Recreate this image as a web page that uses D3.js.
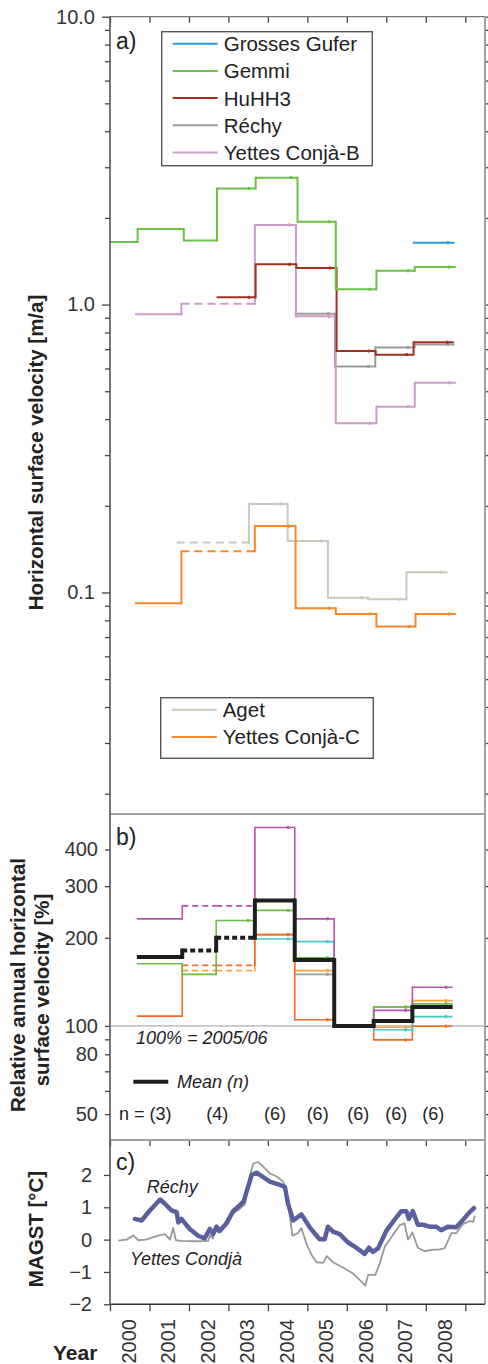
<!DOCTYPE html>
<html>
<head>
<meta charset="utf-8">
<script src="https://cdn.jsdelivr.net/npm/d3@7"></script>
<style>
	body { margin: 0; background: #fff; }
	svg { display: block; font-family: "Liberation Sans", Arial, Helvetica, sans-serif; }
</style>
</head>
<body>
<svg id="chart" width="488" height="1364"></svg>
<script>
// ---------- data ----------
var years = [2000, 2001, 2002, 2003, 2004, 2005, 2006, 2007, 2008];

// panel a: interval boundaries (decimal year) and horizontal velocity [m/a] per interval
var gufT = [2007.67, 2008.73];
var gufV = [1.64];
var gemT = [1999.7, 2000.70, 2001.87, 2002.71, 2003.69, 2004.75, 2005.72, 2006.75, 2007.72, 2008.76];
var gemV = [1.65, 1.83, 1.67, 2.53, 2.76, 1.94, 1.13, 1.31, 1.35];
var huhT = [2002.70, 2003.69, 2004.72, 2005.74, 2006.73, 2007.69, 2008.71];
var huhV = [1.06, 1.38, 1.34, 0.69, 0.67, 0.74];
var recT = [2004.68, 2005.70, 2006.72, 2007.72, 2008.73];
var recV = [0.93, 0.61, 0.71, 0.726];
var ycbT = [2000.63, 2001.81, 2003.67, 2004.71, 2005.72, 2006.75, 2007.72, 2008.76];
var ycbV = [0.925, 1.006, 1.89, 0.91, 0.387, 0.442, 0.535];
var ycbDash = [1];
var agtT = [2001.69, 2003.52, 2004.50, 2005.52, 2006.54, 2007.51, 2008.55];
var agtV = [0.149, 0.203, 0.151, 0.0959, 0.0947, 0.1175];
var agtDash = [0];
var yccT = [2000.63, 2001.81, 2003.67, 2004.70, 2005.72, 2006.75, 2007.74, 2008.76];
var yccV = [0.0917, 0.139, 0.170, 0.0881, 0.0842, 0.0761, 0.0842];
var yccDash = [1];

// panel b: shared interval boundaries and relative velocity [%] (100% = 2005/06)
var relT = [2000.68, 2001.83, 2002.69, 2003.67, 2004.68, 2005.68, 2006.68, 2007.66, 2008.68];
var relYcb = [232, 257, 257, 476, 232, 100, 113, 135.5];
var relGem = [163, 150, 229, 248, 171, 100, 116, 119];
var relYcc = [108, 161, 161, 205, 105, 100, 89.6, 99.8];
var relAgt = [null, 154.5, 154.5, 205, 154.5, 100, 99, 122];
var relHuh = [null, null, null, 198, 194, 100, 97, 107.6];
var relRec = [null, null, null, null, 150, 100, 116, 119];
var relMean = [172, 181, 200, 268, 168, 100, 104, 116];
var relDash = [1, 2];
var nCounts = [3, 4, 6, 6, 6, 6, 6];
var nAt = [2001.31, 2002.72, 2004.18, 2005.26, 2006.29, 2007.25, 2008.19];

// panel c: mean annual ground surface temperature [°C]
var rechyT = [2000.63, 2000.80, 2001.01, 2001.27, 2001.39, 2001.56, 2001.69, 2001.73, 2001.81, 2002.02,
	2002.23, 2002.40, 2002.53, 2002.61, 2002.70, 2002.78, 2002.95, 2003.12, 2003.33, 2003.39,
	2003.49, 2003.59, 2003.71, 2003.92, 2004.05, 2004.30, 2004.43, 2004.51, 2004.64, 2004.85,
	2005.06, 2005.31, 2005.44, 2005.52, 2005.65, 2005.82, 2006.03, 2006.24, 2006.45, 2006.56,
	2006.66, 2006.79, 2007.00, 2007.21, 2007.38, 2007.51, 2007.57, 2007.67, 2007.80, 2007.93,
	2008.10, 2008.27, 2008.39, 2008.56, 2008.77, 2008.94, 2009.11, 2009.22];
var rechyV = [0.64, 0.59, 0.90, 1.24, 1.11, 0.90, 0.85, 0.53, 0.64, 0.33,
	0.12, 0.04, 0.33, 0.17, 0.40, 0.27, 0.50, 0.88, 1.11, 1.20,
	1.60, 2.00, 2.07, 1.90, 1.79, 1.69, 1.63, 1.11, 0.59, 0.78,
	0.38, 0.01, 0.01, 0.40, 0.25, 0.17, -0.09, -0.25, -0.44, -0.25,
	-0.38, -0.27, 0.27, 0.62, 0.88, 0.88, 0.64, 0.88, 0.46, 0.46,
	0.40, 0.40, 0.29, 0.40, 0.38, 0.61, 0.85, 0.97];
var yettesT = [2000.21, 2000.42, 2000.59, 2000.72, 2000.91, 2001.10, 2001.27, 2001.39, 2001.52, 2001.60,
	2001.67, 2001.81, 2002.11, 2002.49, 2002.53, 2002.61, 2002.66, 2002.74, 2002.83, 2003.04,
	2003.29, 2003.42, 2003.54, 2003.63, 2003.75, 2003.88, 2004.05, 2004.22, 2004.39, 2004.49,
	2004.62, 2004.76, 2004.85, 2004.98, 2005.10, 2005.23, 2005.40, 2005.49, 2005.65, 2005.90,
	2006.16, 2006.37, 2006.47, 2006.54, 2006.72, 2006.83, 2006.96, 2007.17, 2007.34, 2007.46,
	2007.55, 2007.66, 2007.80, 2007.97, 2008.14, 2008.35, 2008.48, 2008.65, 2008.77, 2008.94,
	2009.11, 2009.20, 2009.24];
var yettesV = [-0.03, 0.00, 0.13, -0.02, 0.00, 0.08, 0.14, 0.17, 0.00, 0.36,
	-0.02, -0.04, -0.05, -0.04, 0.12, 0.03, 0.40, 0.22, 0.35, 0.75,
	0.95, 1.10, 1.95, 2.35, 2.40, 2.26, 2.05, 1.95, 1.79, 1.37,
	0.12, 0.20, 0.36, -0.14, -0.46, -0.70, -0.72, -0.51, -0.70, -0.86,
	-1.05, -1.30, -1.42, -1.09, -1.09, -0.75, -0.22, 0.15, 0.45, 0.50,
	0.00, 0.22, -0.25, -0.36, -0.32, -0.30, -0.26, 0.20, 0.20, 0.48,
	0.57, 0.55, 0.74];

// ---------- layout ----------
var L = 110, R = 485;
var aTop = 16.7, aBot = 814, bBot = 1140, cBot = 1304.3;

var svg = d3.select("#chart");

var x = d3.scaleLinear().domain([2000, 2009.5]).range([L, R]);
var yA = d3.scaleLog().domain([0.017, 10]).range([aBot, aTop]);
var yB = d3.scaleLog().domain([40.8, 529]).range([bBot, aBot]);
var yC = d3.scaleLinear().domain([-2, 3.08]).range([cBot, bBot]);

// clip paths for each panel
var defs = svg.append("defs");
[["clipA", aTop, aBot], ["clipB", aBot, bBot], ["clipC", bBot, cBot]].forEach(function(c) {
	defs.append("clipPath").attr("id", c[0]).append("rect")
		.attr("x", L).attr("y", c[1]).attr("width", R - L).attr("height", c[2] - c[1]);
});

// step series: horizontal piece per interval, solid vertical connectors
function drawSteps(g, y, t, v, dash, color, width, dashArray) {
	var gen = d3.line().x(function(d) { return x(d[0]); }).y(function(d) { return y(d[1]); });
	for (var i = 0; i < v.length; i++) {
		if (v[i] == null) continue;
		var isDash = dash && dash.indexOf(i) >= 0;
		g.append("path")
			.attr("d", gen([[t[i], v[i]], [t[i + 1], v[i]]]))
			.attr("fill", "none")
			.attr("stroke", color)
			.attr("stroke-width", width)
			.attr("stroke-dasharray", isDash ? dashArray : null);
		if (i < v.length - 1 && v[i + 1] != null && v[i + 1] != v[i]) {
			g.append("path")
				.attr("d", gen([[t[i + 1], v[i]], [t[i + 1], v[i + 1]]]))
				.attr("fill", "none")
				.attr("stroke", color)
				.attr("stroke-width", width)
				.attr("stroke-linecap", "square");
		}
	}
}

// small measurement markers near the end of later intervals
function drawMarks(g, y, t, v, dash, color) {
	for (var i = 0; i < v.length; i++) {
		if (v[i] == null || t[i] < 2002.6) continue;
		if (dash && dash.indexOf(i) >= 0) continue;
		g.append("rect")
			.attr("x", x(t[i + 1] - 0.17) - 1.2)
			.attr("y", y(v[i]) - 1.5)
			.attr("width", 2.4).attr("height", 3)
			.attr("fill", color);
	}
}

// ---------- panel a ----------
var gA = svg.append("g").attr("clip-path", "url(#clipA)");
var seriesA = [
	{ name: "Grosses Gufer", t: gufT, v: gufV, dash: null, color: "#2b9bd6" },
	{ name: "Gemmi", t: gemT, v: gemV, dash: null, color: "#6cbf48" },
	{ name: "HuHH3", t: huhT, v: huhV, dash: null, color: "#a2321f" },
	{ name: "Réchy", t: recT, v: recV, dash: null, color: "#9b9b9b" },
	{ name: "Yettes Conjà-B", t: ycbT, v: ycbV, dash: ycbDash, color: "#cf9bcb" }
];
var seriesA2 = [
	{ name: "Aget", t: agtT, v: agtV, dash: agtDash, color: "#c9c9bd" },
	{ name: "Yettes Conjà-C", t: yccT, v: yccV, dash: yccDash, color: "#f7892a" }
];
// draw order roughly as in the figure
[seriesA2[0], seriesA2[1], seriesA[3], seriesA[4], seriesA[2], seriesA[1], seriesA[0]].forEach(function(s) {
	drawSteps(gA, yA, s.t, s.v, s.dash, s.color, 2, "8,5");
	drawMarks(gA, yA, s.t, s.v, s.dash, s.color);
});

// ---------- panel b ----------
var gB = svg.append("g").attr("clip-path", "url(#clipB)");
gB.append("line")
	.attr("x1", L).attr("x2", R)
	.attr("y1", yB(100)).attr("y2", yB(100))
	.attr("stroke", "#9a9a9a").attr("stroke-width", 1);
var seriesB = [
	{ v: relRec, dash: null, color: "#9d9d9d" },
	{ v: relAgt, dash: relDash, color: "#f8a53c" },
	{ v: relYcc, dash: relDash, color: "#f26a26" },
	{ v: relHuh, dash: null, color: "#48c4c6" },
	{ v: relGem, dash: null, color: "#6abd45" },
	{ v: relYcb, dash: relDash, color: "#b654ad" }
];
seriesB.forEach(function(s) {
	drawSteps(gB, yB, relT, s.v, s.dash, s.color, 1.6, "6,4");
	drawMarks(gB, yB, relT, s.v, s.dash, s.color);
});
drawSteps(gB, yB, relT, relMean, relDash, "#1e1e1e", 4, "5,3");

// ---------- panel c ----------
var gC = svg.append("g").attr("clip-path", "url(#clipC)");
var lineC = d3.line().x(function(d) { return x(d[0]); }).y(function(d) { return yC(d[1]); });
gC.append("path")
	.attr("d", lineC(d3.zip(yettesT, yettesV)))
	.attr("fill", "none").attr("stroke", "#999").attr("stroke-width", 1.8)
	.attr("stroke-linejoin", "round");
gC.append("path")
	.attr("d", lineC(d3.zip(rechyT, rechyV)))
	.attr("fill", "none").attr("stroke", "#5a5f9e").attr("stroke-width", 4.5)
	.attr("stroke-linejoin", "round").attr("stroke-linecap", "round");

// ---------- axes ----------
function styleAxis(g, fontSize) {
	g.selectAll(".domain").remove();
	g.selectAll(".tick line").attr("stroke", "#444").attr("stroke-width", 1.3);
	g.selectAll(".tick text").attr("fill", "#333").attr("font-size", fontSize)
		.attr("font-family", "\"Liberation Sans\", Arial, sans-serif");
}
function minorLog(lo, hi) {
	var out = [];
	[0.01, 0.1, 1, 10, 100].forEach(function(d) {
		for (var k = 2; k <= 9; k++) {
			var val = +(d * k).toPrecision(3);
			if (val >= lo && val <= hi) out.push(val);
		}
	});
	return out;
}

// panel a y axis
var aMajor = [0.1, 1, 10];
var aMinor = minorLog(0.017, 10);
styleAxis(svg.append("g").attr("transform", "translate(" + L + ",0)")
	.call(d3.axisLeft(yA).tickValues(aMinor).tickSize(5).tickFormat("")), 20);
styleAxis(svg.append("g").attr("transform", "translate(" + L + ",0)")
	.call(d3.axisLeft(yA).tickValues(aMajor).tickSize(8).tickPadding(7)
		.tickFormat(function(d) { return d >= 10 ? "10.0" : d >= 1 ? "1.0" : "0.1"; })), 20);
styleAxis(svg.append("g").attr("transform", "translate(" + R + ",0)")
	.call(d3.axisRight(yA).tickValues(aMajor.concat(aMinor)).tickSize(3).tickFormat("")), 20);

// panel b y axis
var bMajor = [100, 200, 300, 400];
var bMinor = [50, 60, 70, 80, 90];
styleAxis(svg.append("g").attr("transform", "translate(" + L + ",0)")
	.call(d3.axisLeft(yB).tickValues(bMinor.concat(bMajor)).tickSize(5).tickPadding(7)
		.tickFormat(function(d) { return (d == 60 || d == 70 || d == 90) ? "" : d; })), 20);
styleAxis(svg.append("g").attr("transform", "translate(" + R + ",0)")
	.call(d3.axisRight(yB).tickValues(bMinor.concat(bMajor)).tickSize(3).tickFormat("")), 20);

// panel c y axis
styleAxis(svg.append("g").attr("transform", "translate(" + L + ",0)")
	.call(d3.axisLeft(yC).tickValues([-2, -1, 0, 1, 2]).tickSize(6).tickPadding(12)
		.tickFormat(d3.format("d"))), 20);
styleAxis(svg.append("g").attr("transform", "translate(" + R + ",0)")
	.call(d3.axisRight(yC).tickValues([-1, 0, 1, 2]).tickSize(3).tickFormat("")), 20);

// year ticks
var yearTicks = years.concat([2009]);
styleAxis(svg.append("g").attr("transform", "translate(0," + aTop + ")")
	.call(d3.axisTop(x).tickValues(yearTicks).tickSize(-6).tickFormat("")), 20);
styleAxis(svg.append("g").attr("transform", "translate(0," + bBot + ")")
	.call(d3.axisTop(x).tickValues(yearTicks).tickSize(-6).tickFormat("")), 20);
styleAxis(svg.append("g").attr("transform", "translate(0," + cBot + ")")
	.call(d3.axisBottom(x).tickValues(yearTicks).tickSize(7).tickFormat("")), 20);

// frame
var frame = svg.append("g").attr("fill", "none");
frame.append("line").attr("x1", R).attr("x2", R).attr("y1", aTop).attr("y2", cBot)
	.attr("stroke", "#a0a0a0").attr("stroke-width", 2);
frame.append("line").attr("x1", L).attr("x2", R).attr("y1", aTop).attr("y2", aTop)
	.attr("stroke", "#777").attr("stroke-width", 1.2);
[aBot, bBot].forEach(function(yy) {
	frame.append("line").attr("x1", L).attr("x2", R).attr("y1", yy).attr("y2", yy)
		.attr("stroke", "#a0a0a0").attr("stroke-width", 2);
});
frame.append("line").attr("x1", L).attr("x2", R).attr("y1", cBot).attr("y2", cBot)
	.attr("stroke", "#333").attr("stroke-width", 1.5);
frame.append("line").attr("x1", L).attr("x2", L).attr("y1", aTop).attr("y2", cBot)
	.attr("stroke", "#555").attr("stroke-width", 1.6);

// year labels, rotated, centred on each year
svg.append("g").selectAll("text")
	.data(years).enter().append("text")
	.attr("transform", function(d) { return "translate(" + (x(d + 0.5) - 1) + ",1319) rotate(-90)"; })
	.attr("text-anchor", "end")
	.attr("dy", "0.35em")
	.attr("font-size", 20)
	.attr("fill", "#333")
	.text(function(d) { return d; });

// ---------- legends ----------
function legend(x0, y0, w, h, entries) {
	var g = svg.append("g");
	g.append("rect").attr("x", x0).attr("y", y0).attr("width", w).attr("height", h)
		.attr("fill", "#fff").attr("stroke", "#555").attr("stroke-width", 1.4);
	entries.forEach(function(s, i) {
		var yy = y0 + 12 + i * 27.2;
		g.append("line").attr("x1", x0 + 11).attr("x2", x0 + 56).attr("y1", yy).attr("y2", yy)
			.attr("stroke", s.color).attr("stroke-width", 2);
		g.append("text").attr("x", x0 + 62).attr("y", yy + 7.5)
			.attr("font-size", 20.5).attr("fill", "#222").text(s.name);
	});
}
legend(161.7, 31.7, 210.6, 134, seriesA);
legend(160.7, 697.7, 212.6, 60.6, seriesA2);

// mean legend (panel b)
svg.append("line").attr("x1", 133.3).attr("x2", 168.3).attr("y1", 1081.7).attr("y2", 1081.7)
	.attr("stroke", "#1e1e1e").attr("stroke-width", 4);
svg.append("text").attr("x", 177).attr("y", 1088).attr("font-size", 18)
	.attr("font-style", "italic").attr("fill", "#222").text("Mean (n)");
svg.append("text").attr("x", 136).attr("y", 1044).attr("font-size", 18)
	.attr("font-style", "italic").attr("fill", "#222").text("100% = 2005/06");

// n counts: first one carries the "n =" prefix
svg.append("g").selectAll("text")
	.data(nCounts).enter().append("text")
	.attr("x", function(d, i) { return i == 0 ? 119 : x(nAt[i]); })
	.attr("y", 1120)
	.attr("text-anchor", function(d, i) { return i == 0 ? "start" : "middle"; })
	.attr("font-size", 18)
	.attr("fill", "#222")
	.text(function(d, i) { return (i == 0 ? "n = " : "") + "(" + d + ")"; });

// panel c line labels
svg.append("text").attr("x", 146.7).attr("y", 1193).attr("font-size", 18)
	.attr("font-style", "italic").attr("fill", "#222").text("Réchy");
svg.append("text").attr("x", 130).attr("y", 1265).attr("font-size", 18)
	.attr("font-style", "italic").attr("fill", "#222").text("Yettes Condjà");

// panel letters
[["a)", 49], ["b)", 845], ["c)", 1170]].forEach(function(p) {
	svg.append("text").attr("x", 116).attr("y", p[1]).attr("font-size", 23)
		.attr("fill", "#222").text(p[0]);
});

// axis titles
function vTitle(lines, xs, yc, size) {
	lines.forEach(function(s, i) {
		svg.append("text")
			.attr("transform", "translate(" + xs[i] + "," + yc[i] + ") rotate(-90)")
			.attr("text-anchor", "middle")
			.attr("font-size", size)
			.attr("font-weight", "bold")
			.attr("fill", "#222")
			.text(s);
	});
}
vTitle(["Horizontal surface velocity [m/a]"], [43], [452.5], 20.5);
vTitle(["Relative annual horizontal", "surface velocity [%]"], [25, 49], [985, 990], 20.5);
vTitle(["MAGST [°C]"], [43], [1229], 20.5);
svg.append("text").attr("x", 53).attr("y", 1360).attr("font-size", 21)
	.attr("font-weight", "bold").attr("fill", "#222").text("Year");
</script>
</body>
</html>
